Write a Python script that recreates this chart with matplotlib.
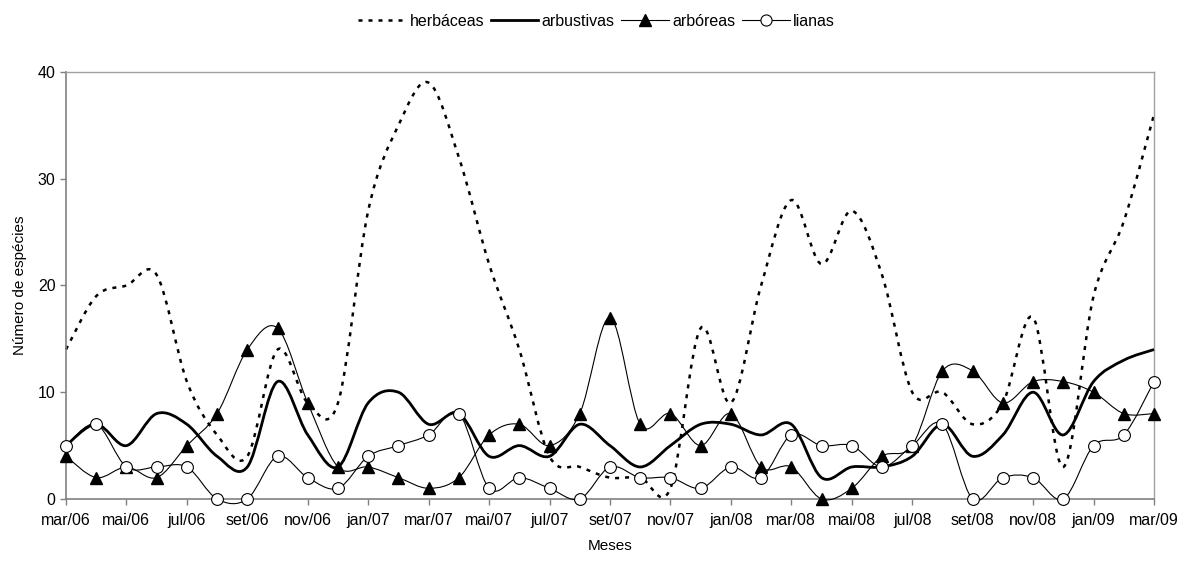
import numpy as np
import matplotlib
matplotlib.use("Agg")
import matplotlib.pyplot as plt
from matplotlib.path import Path
from matplotlib.patches import PathPatch
from matplotlib.lines import Line2D

# monthly counts, mar/06 .. mar/09
herbaceas = [14, 19, 20, 21, 11, 6, 4, 14, 9, 9, 27, 35, 39, 32, 22, 14, 4, 3, 2,
             2, 1, 16, 9, 20, 28, 22, 27, 21, 10, 10, 7, 9, 17, 3, 19, 26, 36]
arbustivas = [5, 7, 5, 8, 7, 4, 3, 11, 6, 3, 9, 10, 7, 8, 4, 5, 4, 7, 5,
              3, 5, 7, 7, 6, 7, 2, 3, 3, 4, 7, 4, 6, 10, 6, 11, 13, 14]
arboreas = [4, 2, 3, 2, 5, 8, 14, 16, 9, 3, 3, 2, 1, 2, 6, 7, 5, 8, 17,
            7, 8, 5, 8, 3, 3, 0, 1, 4, 5, 12, 12, 9, 11, 11, 10, 8, 8]
lianas = [5, 7, 3, 3, 3, 0, 0, 4, 2, 1, 4, 5, 6, 8, 1, 2, 1, 0, 3,
          2, 2, 1, 3, 2, 6, 5, 5, 3, 5, 7, 0, 2, 2, 0, 5, 6, 11]
tick_labels = ["mar/06", "mai/06", "jul/06", "set/06", "nov/06", "jan/07",
               "mar/07", "mai/07", "jul/07", "set/07", "nov/07", "jan/08",
               "mar/08", "mai/08", "jul/08", "set/08", "nov/08", "jan/09",
               "mar/09"]

plt.rcParams['font.family'] = ['Liberation Sans Narrow', 'Liberation Sans', 'DejaVu Sans']


def smooth_path(values):
    """Excel style smoothed line as cubic bezier segments"""
    pts = np.column_stack([np.arange(len(values)), values]).astype(float)
    p = np.vstack([pts[0], pts, pts[-1]])
    verts = [pts[0]]
    codes = [Path.MOVETO]
    for i in range(len(pts) - 1):
        p0, p1, p2, p3 = p[i], p[i + 1], p[i + 2], p[i + 3]
        verts += [p1 + (p2 - p0) / 6, p2 - (p3 - p1) / 6, p2]
        codes += [Path.CURVE4] * 3
    return Path(verts, codes)


fig = plt.figure(figsize=(11.93, 5.66), dpi=100)
ax = fig.add_axes([0.0553, 0.1184, 0.912, 0.7544])

x = np.arange(len(herbaceas))
ax.add_patch(PathPatch(smooth_path(herbaceas), fill=False, color="black", lw=1.8,
                       linestyle=(0, (1.6, 2.4)), clip_on=False, zorder=2))
ax.add_patch(PathPatch(smooth_path(arbustivas), fill=False, color="black", lw=2.0,
                       clip_on=False, zorder=3))
ax.add_patch(PathPatch(smooth_path(arboreas), fill=False, color="black", lw=0.8,
                       clip_on=False, zorder=3))
ax.add_patch(PathPatch(smooth_path(lianas), fill=False, color="black", lw=0.8,
                       clip_on=False, zorder=3))
ax.plot(x, arboreas, linestyle="none", marker="^", ms=9, color="black",
        clip_on=False, zorder=4)
ax.plot(x, lianas, linestyle="none", marker="o", ms=8.5, mfc="white", mec="black",
        mew=0.8, clip_on=False, zorder=4)

ax.set_xlim(0, len(herbaceas) - 1)
ax.set_ylim(0, 40)
ax.set_xticks(x[::2])
ax.set_xticklabels(tick_labels)
ax.set_yticks([0, 10, 20, 30, 40])
ax.tick_params(direction="out", length=4, width=1, color="#808080", labelsize=11.5)
ax.tick_params(axis="x", pad=6)
for s in ["left", "bottom"]:
    ax.spines[s].set_color("#808080")
    ax.spines[s].set_linewidth(1.2)
for s in ["top", "right"]:
    ax.spines[s].set_color("#a0a0a0")
    ax.spines[s].set_linewidth(1.0)

ax.set_xlabel("Meses", fontsize=11, labelpad=8)
ax.set_ylabel("Número de espécies", fontsize=11, labelpad=8)

handles = [
    Line2D([], [], color="black", lw=1.8, linestyle=(0, (1.6, 2.4))),
    Line2D([], [], color="black", lw=2.0),
    Line2D([], [], color="black", lw=0.8, marker="^", ms=9),
    Line2D([], [], color="black", lw=0.8, marker="o", ms=8, mfc="white", mew=0.8),
]
fig.legend(handles, ["herbáceas", "arbustivas", "arbóreas", "lianas"],
           loc="center", bbox_to_anchor=(0.5, 0.962), ncol=4, frameon=False,
           fontsize=11.5, handlelength=3.0, handletextpad=0.2, columnspacing=0.4)

fig.savefig("out.png", dpi=100)
